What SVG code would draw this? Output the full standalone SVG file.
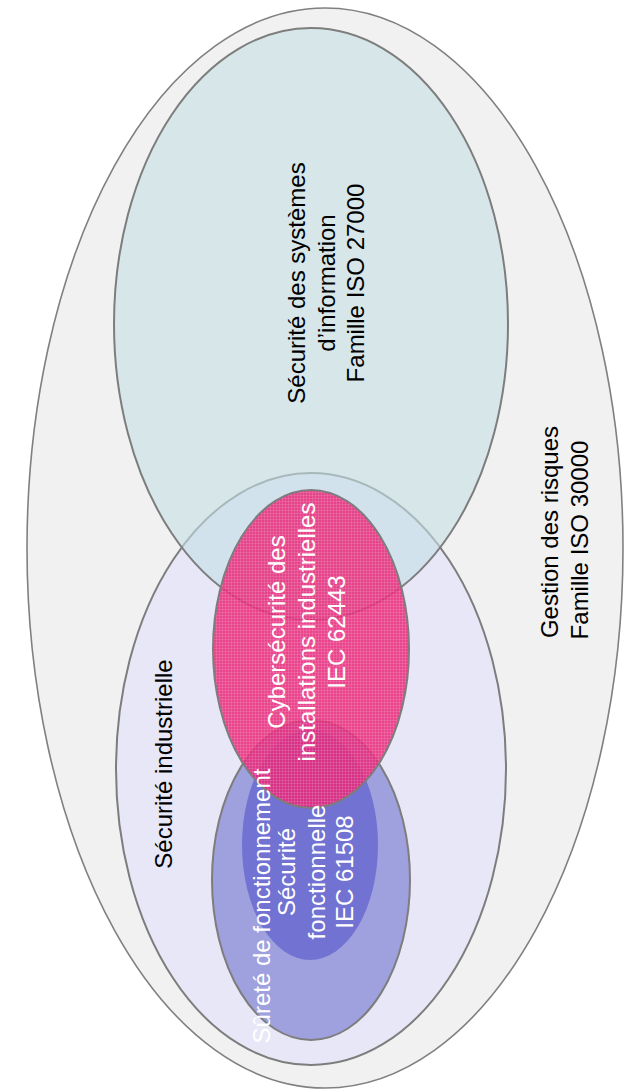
<svg xmlns="http://www.w3.org/2000/svg" width="626" height="1091" viewBox="0 0 626 1091">
  <style>
    .lbl { font-family: "Liberation Sans", Arial, sans-serif; font-size: 24px; text-anchor: middle; }
    .dark { fill: #000000; }
    .light { fill: #ffffff; }
    .edge { stroke: #7d7d7d; stroke-width: 2; }
  </style>
  <defs>
    <pattern id="hatch" width="3" height="3" patternUnits="userSpaceOnUse">
      <path d="M0 0.5H3M0.5 0V3" stroke="#ffffff" stroke-opacity="0.12" stroke-width="1" fill="none"/>
    </pattern>
  </defs>
  <rect width="626" height="1091" fill="#ffffff"/>

  <g id="gestion-risques">
    <ellipse cx="325" cy="548" rx="298" ry="540" fill="#f1f1f1" stroke="#808080" stroke-width="1.6"/>
  </g>

  <g id="securite-industrielle">
    <ellipse class="edge" cx="311" cy="769" rx="195" ry="296" fill="#e7e7f7"/>
  </g>

  <g id="surete-fonctionnement">
    <ellipse class="edge" cx="311" cy="880" rx="99" ry="160" fill="#9fa1de"/>
  </g>

  <g id="securite-fonctionnelle">
    <ellipse cx="310" cy="845" rx="68" ry="115" fill="#7272d2"/>
  </g>

  <g id="securite-si">
    <ellipse class="edge" cx="311" cy="324" rx="197" ry="296" fill="#c4dfe5" fill-opacity="0.6"/>
  </g>

  <g id="cybersecurite">
    <ellipse class="edge" cx="311" cy="649" rx="98" ry="159" fill="#e92779" fill-opacity="0.85"/>
    <ellipse cx="311" cy="649" rx="97" ry="158" fill="url(#hatch)"/>
  </g>

  <g id="connectors"></g>

  <g id="labels">
    <text class="lbl dark" transform="translate(305,283) rotate(-90)">Sécurité des systèmes</text>
    <text class="lbl dark" transform="translate(335,283) rotate(-90)">d’information</text>
    <text class="lbl dark" transform="translate(364,283) rotate(-90)">Famille ISO 27000</text>

    <text class="lbl dark" transform="translate(558,532) rotate(-90)">Gestion des risques</text>
    <text class="lbl dark" transform="translate(588,540) rotate(-90)">Famille ISO 30000</text>

    <text class="lbl light" transform="translate(285,632) rotate(-90)">Cybersécurité des</text>
    <text class="lbl light" transform="translate(315,632) rotate(-90)">installations industrielles</text>
    <text class="lbl light" transform="translate(345,632) rotate(-90)">IEC 62443</text>

    <text class="lbl dark" transform="translate(172,764) rotate(-90)">Sécurité industrielle</text>

    <text class="lbl light" transform="translate(270,906) rotate(-90)">Sûreté de fonctionnement</text>

    <text class="lbl light" transform="translate(295,872) rotate(-90)">Sécurité</text>
    <text class="lbl light" transform="translate(325,872) rotate(-90)">fonctionnelle</text>
    <text class="lbl light" transform="translate(353,872) rotate(-90)">IEC 61508</text>
  </g>
</svg>
